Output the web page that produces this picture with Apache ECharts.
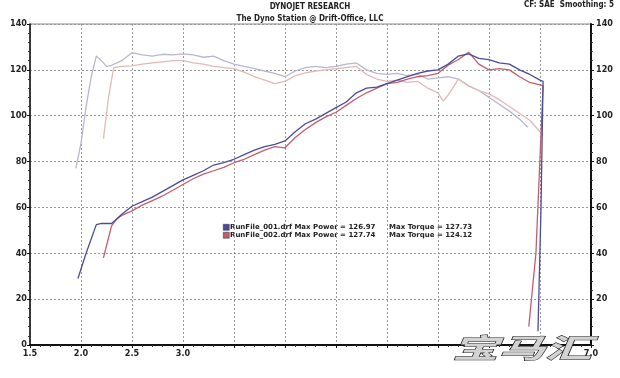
<!DOCTYPE html>
<html>
<head>
<meta charset="utf-8">
<script src="https://cdn.jsdelivr.net/npm/echarts@6/dist/echarts.min.js"></script>
<style>
  html, body { margin: 0; padding: 0; background: #fff; }
  #main { width: 620px; height: 378px; }
</style>
</head>
<body>
<div id="main"></div>
<script>
// rpm (x1000) and values
var rpm1 = [1.97, 2.05, 2.15, 2.2, 2.3, 2.35, 2.4, 2.5, 2.6, 2.7, 2.8, 2.9, 3.0, 3.1, 3.2, 3.3, 3.4, 3.5, 3.6, 3.7, 3.8, 3.9, 4.0, 4.1, 4.2, 4.3, 4.4, 4.5, 4.6, 4.7, 4.8, 4.9, 5.0, 5.1, 5.2, 5.3, 5.4, 5.5, 5.6, 5.7, 5.8, 5.9, 6.0, 6.1, 6.2, 6.3, 6.4, 6.5, 6.53, 6.51, 6.48];
var power1 = [29, 40, 52.5, 53, 53, 55, 57, 60.5, 62.5, 64.5, 67, 69.5, 72, 74, 76, 78.5, 79.5, 81, 83, 85, 86.5, 87.5, 89, 93, 96.5, 98.5, 101, 103.5, 106, 110, 112, 112.5, 114, 115.5, 117, 118.5, 119.5, 120, 122.5, 126, 127, 125, 124.5, 123, 122.5, 120, 118, 115.5, 115, 60, 6];
var rpm2 = [2.22, 2.3, 2.35, 2.4, 2.5, 2.6, 2.7, 2.8, 2.9, 3.0, 3.1, 3.2, 3.3, 3.4, 3.5, 3.6, 3.7, 3.8, 3.9, 4.0, 4.1, 4.2, 4.3, 4.4, 4.5, 4.6, 4.7, 4.8, 4.9, 5.0, 5.1, 5.2, 5.3, 5.4, 5.5, 5.6, 5.7, 5.8, 5.9, 6.0, 6.1, 6.2, 6.3, 6.4, 6.5, 6.53, 6.46, 6.39];
var power2 = [38, 52, 55, 56.5, 58.5, 61, 63, 65, 67.5, 70, 72.5, 74.5, 76, 77.5, 79.5, 81, 83, 85, 86.5, 86, 90.5, 94, 97, 99.5, 101.5, 104.5, 107.5, 110, 112, 114, 114.5, 116, 117, 117.5, 118.5, 122, 124.5, 127.7, 122.5, 120, 120.5, 120, 117, 114.5, 113.5, 113, 40, 8];
var rpmT1 = [1.95, 2.0, 2.05, 2.1, 2.15, 2.2, 2.25, 2.3, 2.4, 2.5, 2.6, 2.7, 2.8, 2.9, 3.0, 3.1, 3.2, 3.3, 3.4, 3.5, 3.6, 3.7, 3.8, 3.9, 4.0, 4.1, 4.2, 4.3, 4.4, 4.5, 4.6, 4.7, 4.8, 4.9, 5.0, 5.1, 5.2, 5.3, 5.4, 5.5, 5.6, 5.7, 5.8, 5.9, 6.0, 6.1, 6.2, 6.3, 6.38];
var torque1 = [77, 88, 104, 117, 126, 124, 121.5, 122, 124, 127.5, 126.5, 126, 126.8, 126.5, 127, 126.5, 125.5, 126, 124, 122.5, 121.5, 120.5, 119.5, 118.5, 117, 119.5, 121, 121.5, 121, 121.5, 122.5, 123, 120, 118.5, 118, 118.5, 117.5, 118, 116, 116.5, 117, 116, 113, 111, 108, 105, 102, 98.5, 95];
var rpmT2 = [2.22, 2.27, 2.32, 2.4, 2.5, 2.6, 2.7, 2.8, 2.9, 3.0, 3.1, 3.2, 3.3, 3.4, 3.5, 3.6, 3.7, 3.8, 3.9, 4.0, 4.1, 4.2, 4.3, 4.4, 4.5, 4.6, 4.7, 4.8, 4.9, 5.0, 5.1, 5.2, 5.3, 5.4, 5.5, 5.55, 5.6, 5.7, 5.8, 5.9, 6.0, 6.1, 6.2, 6.3, 6.4, 6.53];
var torque2 = [90, 108, 121, 121.5, 121.7, 122.5, 123, 123.5, 124, 124, 123, 122.5, 121.5, 121, 120.5, 119, 117, 115.5, 114, 115, 117.5, 118.7, 119.5, 120, 120.5, 121, 121.5, 118, 116, 115, 115.5, 114.5, 115, 112, 110, 106.5, 109, 116, 113, 111, 109.5, 107, 104, 101, 98, 91.5];

var xTicksShown = ['1.5', '2.0', '2.5', '3.0', '7.0'];
var legendNames = ['RunFile_001.drf', 'RunFile_002.drf'];
var maxPower = ['126.97', '127.74'];
var maxTorque = ['127.73', '124.12'];
var runColors = ['#4b4b9c', '#c0606e'];
var torqueColors = ['#b9b6cf', '#e2b9b6'];

function pairs(xs, ys) {
  return xs.map(function (x, i) { return [x, ys[i]]; });
}

var chart = echarts.init(document.getElementById('main'), null, { renderer: 'canvas' });
var font = 'DejaVu Sans Condensed';
var small = 'bold 8px "' + font + '"';
var lbl = { fontFamily: font, fontSize: 9, fontWeight: 'bold', color: '#222' };

function legendText(left, top, text) {
  return {
    type: 'text', left: left, top: top,
    style: { text: text, fontFamily: 'DejaVu Sans', fontSize: 7, fontWeight: 'bold', fill: '#222' }
  };
}

var option = {
  backgroundColor: '#fff',
  animation: false,
  grid: {
    left: 30, right: 29, top: 24, bottom: 33,
    containLabel: false, outerBoundsMode: 'none',
    show: true, borderColor: '#888', borderWidth: 1
  },
  xAxis: {
    type: 'value', min: 1.5, max: 7.0, interval: 0.5,
    axisLine: { lineStyle: { color: '#111', width: 2 } },
    axisTick: { length: 3, lineStyle: { color: '#111' } },
    minorTick: { show: true, splitNumber: 5, length: 2, lineStyle: { color: '#333' } },
    splitLine: { show: true, lineStyle: { color: '#999', type: [2, 2], width: 1 } },
    axisLabel: Object.assign({}, lbl, {
      margin: 4,
      formatter: function (v) {
        var s = v.toFixed(1);
        return xTicksShown.indexOf(s) >= 0 ? s : '';
      }
    })
  },
  yAxis: [{
    type: 'value', min: 0, max: 140, interval: 20,
    name: 'Power (hp)', nameLocation: 'middle', nameGap: 22, nameRotate: 90,
    nameTextStyle: { fontFamily: font, fontSize: 7, fontWeight: 'bold', color: '#222' },
    axisLine: { show: true, lineStyle: { color: '#111', width: 1.5 } },
    axisTick: { show: true, length: 3, lineStyle: { color: '#111' } },
    minorTick: { show: true, splitNumber: 5, length: 2, lineStyle: { color: '#333' } },
    splitLine: { show: true, lineStyle: { color: '#999', type: [2, 2], width: 1 } },
    axisLabel: Object.assign({}, lbl, { margin: 3 })
  }, {
    type: 'value', min: 0, max: 140, interval: 20, position: 'right',
    name: 'Torque (ft-lbs)', nameLocation: 'middle', nameGap: 21, nameRotate: -90,
    nameTextStyle: { fontFamily: font, fontSize: 7, fontWeight: 'bold', color: '#222' },
    axisLine: { show: true, lineStyle: { color: '#111', width: 2 } },
    axisTick: { show: true, length: 3, lineStyle: { color: '#111' } },
    minorTick: { show: true, splitNumber: 5, length: 2, lineStyle: { color: '#333' } },
    splitLine: { show: false },
    axisLabel: Object.assign({}, lbl, {
      margin: 5,
      formatter: function (v) { return v === 0 ? '' : v; }
    })
  }],
  series: [
    { type: 'line', name: 'T1', yAxisIndex: 1, data: pairs(rpmT1, torque1), showSymbol: false, lineStyle: { color: torqueColors[0], width: 1.3 }, z: 2 },
    { type: 'line', name: 'T2', yAxisIndex: 1, data: pairs(rpmT2, torque2), showSymbol: false, lineStyle: { color: torqueColors[1], width: 1.3 }, z: 2 },
    { type: 'line', name: legendNames[1], data: pairs(rpm2, power2), showSymbol: false, lineStyle: { color: runColors[1], width: 1.3 }, z: 3 },
    { type: 'line', name: legendNames[0], data: pairs(rpm1, power1), showSymbol: false, lineStyle: { color: runColors[0], width: 1.3 }, z: 4 }
  ],
  graphic: [
    { type: 'text', left: 'center', top: 3, style: { text: 'DYNOJET RESEARCH', font: small, fill: '#222' } },
    { type: 'text', left: 'center', top: 15, style: { text: 'The Dyno Station @ Drift-Office, LLC', font: small, fill: '#222' } },
    { type: 'text', right: 6, top: 1, style: { text: 'CF: SAE  Smoothing: 5', font: small, fill: '#222' } },
    { type: 'rect', left: 223, top: 224, shape: { width: 6, height: 6 }, style: { fill: runColors[0], stroke: '#333', lineWidth: 0.5 } },
    { type: 'rect', left: 223, top: 232, shape: { width: 6, height: 6 }, style: { fill: runColors[1], stroke: '#333', lineWidth: 0.5 } },
    legendText(230, 224, legendNames[0] + ' Max Power = ' + maxPower[0]),
    legendText(230, 232, legendNames[1] + ' Max Power = ' + maxPower[1]),
    legendText(389, 224, 'Max Torque = ' + maxTorque[0]),
    legendText(389, 232, 'Max Torque = ' + maxTorque[1]),
    {
      type: 'text', x: 452, y: 334, scaleX: 1.72, scaleY: 1, z: 100,
      style: { text: '宝马汇', font: 'italic bold 27px "Noto Sans CJK SC"', fill: '#d2d2d2', stroke: '#222', lineWidth: 1 }
    }
  ]
};

chart.setOption(option);
</script>
</body>
</html>
